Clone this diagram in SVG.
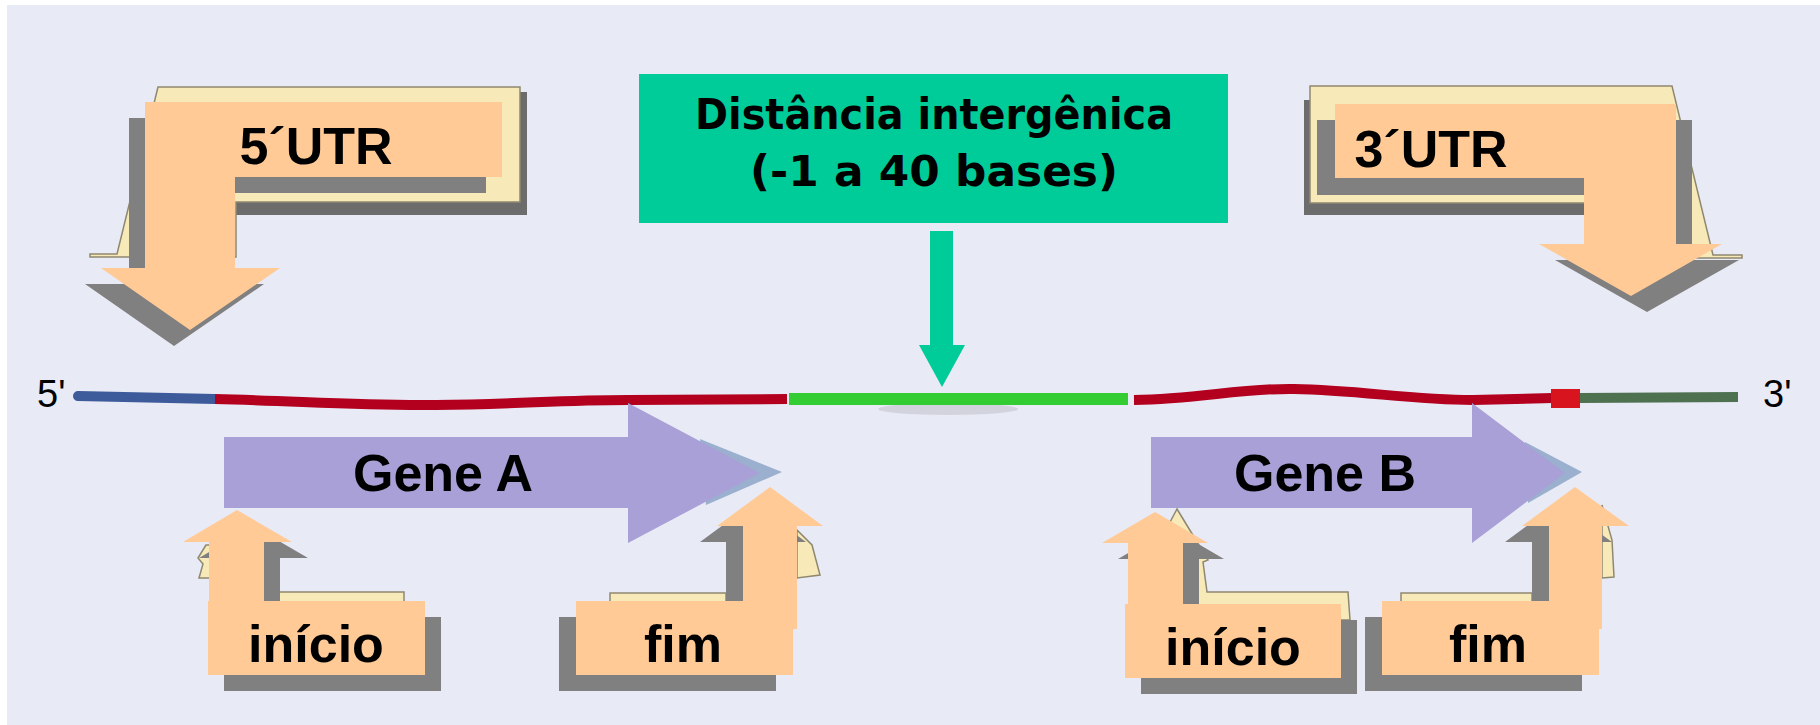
<svg xmlns="http://www.w3.org/2000/svg" width="1820" height="725" viewBox="0 0 1820 725">
<defs>
<style>
.lbl{font-family:"Liberation Sans",Arial,sans-serif;font-weight:bold;font-size:52px;fill:#000;text-anchor:middle}
.end{font-family:"Liberation Sans",Arial,sans-serif;font-size:38px;fill:#000}
.green{font-family:"DejaVu Sans",sans-serif;font-weight:bold;font-size:42px;fill:#000;text-anchor:middle}
.org{fill:#FFCA96}
.shd{fill:#808080}
.dk{fill:#6C6C6C}
.yel{fill:#F8E9B8;stroke:#8F8870;stroke-width:1.5}
.gene{fill:#A8A0D6}
.tip{fill:#9AB0CE}
</style>
</defs>
<rect x="0" y="0" width="1820" height="725" fill="#FFFFFF"/>
<rect x="7" y="5" width="1813" height="720" fill="#E8EAF6"/>

<g id="connectors">
  <ellipse cx="948" cy="409" rx="70" ry="6" fill="#D2D3DD"/>
  <path d="M78,396 L215,399" stroke="#3D5A9A" stroke-width="10" fill="none" stroke-linecap="round"/>
  <path d="M215,399 C300,401 360,406 436,405 C520,404 560,400 628,400 L787,399" stroke="#B3001E" stroke-width="10" fill="none"/>
  <path d="M789,399 L1128,399" stroke="#33CC33" stroke-width="12" fill="none"/>
  <path d="M1134,400 C1200,399 1240,388 1294,389 C1360,390 1410,400 1473,400 L1553,398" stroke="#B3001E" stroke-width="10" fill="none"/>
  <rect x="1551" y="389" width="29" height="19" fill="#D8141E"/>
  <path d="M1580,398 L1738,397" stroke="#4E7150" stroke-width="10" fill="none"/>
  <path d="M930,231 H953 V345 H965 L942,387 L919,345 H930 Z" fill="#00CC99"/>
</g>

<g id="end5">
  <text class="end" x="37" y="407">5'</text>
</g>
<g id="end3">
  <text class="end" x="1763" y="407">3'</text>
</g>

<g id="utr5">
  <rect class="dk" x="236" y="92" width="291" height="123"/>
  <polygon class="yel" points="158,87 520,87 520,202 236,202 236,257 90,257 90,254 117,254"/>
  <polygon class="shd" transform="translate(-16,16)" points="145,102 502,102 502,177 235,177 235,268 280,268 190,330 101,268 145,268"/>
  <polygon class="org" points="145,102 502,102 502,177 235,177 235,268 280,268 190,330 101,268 145,268"/>
  <text class="lbl" x="316" y="164">5´UTR</text>
</g>

<g id="utr3">
  <rect class="dk" x="1304" y="100" width="280" height="115"/>
  <polygon class="yel" points="1310,86 1672,86 1713,255 1742,255 1742,258 1676,258 1676,203 1310,203"/>
  <polygon class="shd" points="1317,120 1692,120 1692,260 1739,260 1647,312 1555,260 1584,260 1584,195 1317,195"/>
  <polygon class="org" points="1335,104 1676,104 1676,244 1722,244 1631,296 1539,244 1584,244 1584,178 1335,178"/>
  <text class="lbl" x="1431" y="167">3´UTR</text>
</g>

<g id="intergenic">
  <rect x="639" y="74" width="589" height="149" fill="#00CC99"/>
  <text class="green" x="934" y="129" textLength="478" lengthAdjust="spacingAndGlyphs">Distância intergênica</text>
  <text class="green" x="934" y="186" textLength="368" lengthAdjust="spacingAndGlyphs">(-1 a 40 bases)</text>
</g>

<g id="geneA">
  <polygon class="tip" points="700,439 782,472 706,505"/>
  <polygon class="gene" points="224,437 628,437 628,403 760,473 628,543 628,508 224,508"/>
  <text class="lbl" x="443" y="491">Gene A</text>
</g>

<g id="geneB">
  <polygon class="tip" points="1525,442 1582,472 1528,503"/>
  <polygon class="gene" points="1151,437 1472,437 1472,403 1565,473 1472,543 1472,508 1151,508"/>
  <text class="lbl" x="1325" y="491">Gene B</text>
</g>

<g id="inicioA">
  <rect class="yel" x="279" y="592" width="125" height="12"/>
  <polygon class="yel" points="206,545 198,558 203,564 199,578 213,578 213,545"/>
  <g transform="translate(16,16)">
    <polygon class="shd" points="208,601 209,601 209,542 183,542 237,510 292,542 264,542 264,601 425,601 425,675 208,675"/>
  </g>
  <polygon class="org" points="208,601 209,601 209,542 183,542 237,510 292,542 264,542 264,601 425,601 425,675 208,675"/>
  <text class="lbl" x="316" y="662">início</text>
</g>

<g id="fimA">
  <rect class="yel" x="610" y="593" width="116" height="12"/>
  <polygon class="yel" points="797,530 812,545 820,575 797,578"/>
  <g transform="translate(-17,16)">
    <polygon class="shd" points="576,601 743,601 743,526 717,526 770,487 823,526 797,526 797,629 793,629 793,675 576,675"/>
  </g>
  <polygon class="org" points="576,601 743,601 743,526 717,526 770,487 823,526 797,526 797,629 793,629 793,675 576,675"/>
  <text class="lbl" x="683" y="662">fim</text>
</g>

<g id="inicioB">
  <polygon class="yel" points="1177,509 1208,560 1203,562 1207,592 1348,592 1350,620 1190,620 1190,560 1150,560"/>
  <g transform="translate(16,16)">
    <polygon class="shd" points="1125,604 1128,604 1128,543 1102,543 1155,512 1208,543 1183,543 1183,604 1341,604 1341,678 1125,678"/>
  </g>
  <polygon class="org" points="1125,604 1128,604 1128,543 1102,543 1155,512 1208,543 1183,543 1183,604 1341,604 1341,678 1125,678"/>
  <text class="lbl" x="1233" y="665">início</text>
</g>

<g id="fimB">
  <rect class="yel" x="1401" y="593" width="131" height="12"/>
  <polygon class="yel" points="1602,505 1612,540 1614,577 1602,578"/>
  <g transform="translate(-17,16)">
    <polygon class="shd" points="1382,601 1549,601 1549,526 1522,526 1575,487 1629,526 1602,526 1602,629 1599,629 1599,675 1382,675"/>
  </g>
  <polygon class="org" points="1382,601 1549,601 1549,526 1522,526 1575,487 1629,526 1602,526 1602,629 1599,629 1599,675 1382,675"/>
  <text class="lbl" x="1488" y="662">fim</text>
</g>
</svg>
